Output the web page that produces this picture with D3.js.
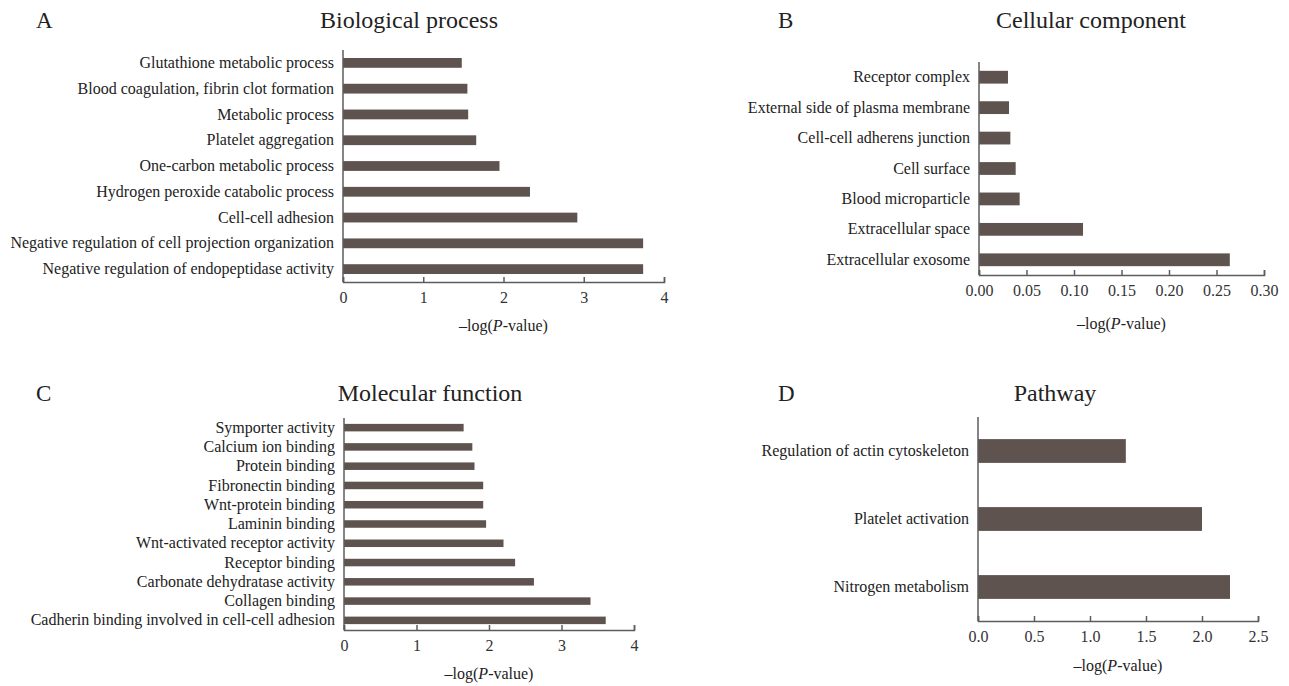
<!DOCTYPE html>
<html>
<head>
<meta charset="utf-8">
<script src="https://cdn.jsdelivr.net/npm/d3@7"></script>
<style>
  body { margin: 0; background: #fff; }
  svg { display: block; }
  svg text { font-family: "Liberation Serif", "Times New Roman", serif; }
</style>
</head>
<body>
<svg id="chart" width="1289" height="686"></svg>
<script>
'use strict';

// A - Biological process
var bpTerms = [
	'Glutathione metabolic process',
	'Blood coagulation, fibrin clot formation',
	'Metabolic process',
	'Platelet aggregation',
	'One-carbon metabolic process',
	'Hydrogen peroxide catabolic process',
	'Cell-cell adhesion',
	'Negative regulation of cell projection organization',
	'Negative regulation of endopeptidase activity'
];
var bpValues = [1.48, 1.55, 1.56, 1.66, 1.95, 2.33, 2.92, 3.74, 3.74];
var bpTicks = [0, 1, 2, 3, 4];

// B - Cellular component
var ccTerms = [
	'Receptor complex',
	'External side of plasma membrane',
	'Cell-cell adherens junction',
	'Cell surface',
	'Blood microparticle',
	'Extracellular space',
	'Extracellular exosome'
];
var ccValues = [0.0305, 0.0316, 0.033, 0.0386, 0.0428, 0.1095, 0.264];
var ccTicks = [0, 0.05, 0.10, 0.15, 0.20, 0.25, 0.30];

// C - Molecular function
var mfTerms = [
	'Symporter activity',
	'Calcium ion binding',
	'Protein binding',
	'Fibronectin binding',
	'Wnt-protein binding',
	'Laminin binding',
	'Wnt-activated receptor activity',
	'Receptor binding',
	'Carbonate dehydratase activity',
	'Collagen binding',
	'Cadherin binding involved in cell-cell adhesion'
];
var mfValues = [1.65, 1.77, 1.80, 1.92, 1.92, 1.96, 2.20, 2.36, 2.62, 3.40, 3.61];
var mfTicks = [0, 1, 2, 3, 4];

// D - Pathway
var pwTerms = [
	'Regulation of actin cytoskeleton',
	'Platelet activation',
	'Nitrogen metabolism'
];
var pwValues = [1.32, 2.00, 2.25];
var pwTicks = [0, 0.5, 1.0, 1.5, 2.0, 2.5];

var BAR = '#5f5350';
var AXIS = '#5c5c5c';
var FONT = '"Liberation Serif", "Times New Roman", serif';

var svg = d3.select('#chart');

function panel(o) {
	var g = svg.append('g');

	var x = d3.scaleLinear()
		.domain([0, o.ticks[o.ticks.length - 1]])
		.range([o.left, o.right]);
	var y = d3.scaleBand()
		.domain(o.terms)
		.range([o.top, o.bottom])
		.paddingInner(o.pad)
		.paddingOuter(o.pad / 2);

	g.selectAll('rect.bar')
		.data(o.values)
		.enter()
		.append('rect')
			.attr('class', 'bar')
			.attr('x', x(0))
			.attr('y', function(d, i) { return y(o.terms[i]); })
			.attr('width', function(d) { return x(d) - x(0); })
			.attr('height', y.bandwidth())
			.attr('fill', BAR);

	// x axis, ticks pointing up into the plot
	var xa = g.append('g')
		.attr('transform', 'translate(0,' + o.bottom + ')')
		.call(d3.axisBottom(x)
			.tickValues(o.ticks)
			.tickFormat(d3.format(o.fmt))
			.tickSizeInner(-5)
			.tickSizeOuter(-5)
			.tickPadding(10))
		.attr('font-family', null)
		.attr('font-size', null);
	xa.select('.domain').attr('stroke', AXIS).attr('stroke-width', 1.5);
	xa.selectAll('.tick line').attr('stroke', AXIS).attr('stroke-width', 1.5);
	xa.selectAll('.tick text')
		.style('font-family', FONT)
		.style('font-size', '16px')
		.attr('fill', '#333');

	// y axis: plain line with category labels
	var ya = g.append('g')
		.attr('transform', 'translate(' + o.left + ',0)')
		.call(d3.axisLeft(y).tickSize(0).tickPadding(9))
		.attr('font-family', null)
		.attr('font-size', null);
	ya.select('.domain').attr('stroke', AXIS).attr('stroke-width', 1.5)
		.attr('d', 'M0,' + o.top + 'V' + o.bottom);
	ya.selectAll('.tick text')
		.style('font-family', FONT)
		.style('font-size', '16px')
		.attr('fill', '#222');

	// axis title
	var t = g.append('text')
		.attr('x', (o.left + o.right) / 2)
		.attr('y', o.bottom + o.xtitleDy)
		.attr('text-anchor', 'middle')
		.style('font-size', '16px')
		.attr('fill', '#222');
	t.append('tspan').text('\u2013log(');
	t.append('tspan').attr('font-style', 'italic').text('P');
	t.append('tspan').text('-value)');

	// panel letter and heading
	g.append('text')
		.attr('x', o.letterX)
		.attr('y', o.headY)
		.style('font-size', '23px')
		.attr('fill', '#222')
		.text(o.letter);
	g.append('text')
		.attr('x', o.titleX)
		.attr('y', o.headY)
		.attr('text-anchor', 'middle')
		.style('font-size', '24px')
		.attr('fill', '#222')
		.text(o.title);
}

panel({
	terms: bpTerms, values: bpValues, ticks: bpTicks, fmt: 'd',
	left: 343, right: 664, top: 50, bottom: 282, pad: 0.62,
	xtitleDy: 49, letter: 'A', letterX: 36, title: 'Biological process', titleX: 409, headY: 28
});
panel({
	terms: ccTerms, values: ccValues, ticks: ccTicks, fmt: '.2f',
	left: 979, right: 1264, top: 62, bottom: 275, pad: 0.58,
	xtitleDy: 54, letter: 'B', letterX: 778, title: 'Cellular component', titleX: 1091, headY: 28
});
panel({
	terms: mfTerms, values: mfValues, ticks: mfTicks, fmt: 'd',
	left: 344, right: 634, top: 418, bottom: 630, pad: 0.61,
	xtitleDy: 49, letter: 'C', letterX: 36, title: 'Molecular function', titleX: 430, headY: 401
});
panel({
	terms: pwTerms, values: pwValues, ticks: pwTicks, fmt: '.1f',
	left: 978, right: 1258, top: 417, bottom: 621, pad: 0.65,
	xtitleDy: 50, letter: 'D', letterX: 778, title: 'Pathway', titleX: 1055, headY: 401
});
</script>
</body>
</html>
